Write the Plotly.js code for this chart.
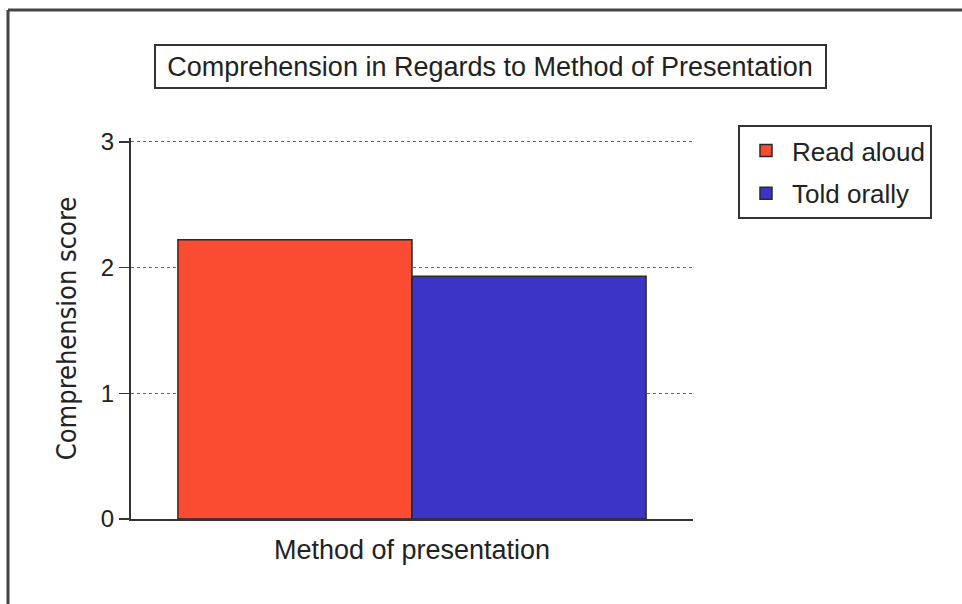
<!DOCTYPE html>
<html>
<head>
<meta charset="utf-8">
<script src="https://cdn.plot.ly/plotly-3.0.1.min.js"></script>
<style>html,body{margin:0;padding:0;background:#fff;} #chart{width:962px;height:604px;}</style>
</head>
<body>
<div id="chart"></div>
<script>
var category = ['Method of presentation'];
var seriesNames = ['Read aloud', 'Told orally'];
var readAloud = [2.22];
var toldOrally = [1.93];
var yTicks = [0, 1, 2, 3];

var F = 'Liberation Sans, Arial, sans-serif';
var traces = [
  {type: 'bar', name: seriesNames[0], x: category, y: readAloud, legendgroup: 'g1',
   marker: {color: '#fb4b30', line: {color: '#2a2a2a', width: 1.5}}},
  {type: 'bar', name: seriesNames[1], x: category, y: toldOrally, legendgroup: 'g2',
   marker: {color: '#3b34c6', line: {color: '#2a2a2a', width: 1.5}}}
];

var B = 519, H = 381;           // plot bottom (px) and plot height (px)
function py(p) { return (B - p) / H; }
function px(p) { return (p - 131) / 562; }

var layout = {
  width: 962, height: 604,
  margin: {l: 131, r: 269, t: 604 - 85 - H, b: 85},
  paper_bgcolor: '#fff', plot_bgcolor: '#fff',
  barmode: 'group', bargap: 0.167, bargroupgap: 0,
  font: {family: F, color: '#222', size: 24},
  title: {text: 'Comprehension in Regards to Method of Presentation',
          x: 490/962, xref: 'container', xanchor: 'center',
          y: 1 - 67/604, yref: 'container', yanchor: 'middle',
          font: {family: F, size: 27, color: '#222'}},
  xaxis: {showticklabels: false, ticks: '', showgrid: false, zeroline: false,
          showline: true, linecolor: '#333', linewidth: 2,
          title: {text: 'Method of presentation', standoff: 20, font: {family: F, size: 27, color: '#222'}}},
  yaxis: {range: [0, 3.03], tickvals: yTicks, ticktext: yTicks.map(String),
          ticks: 'outside', ticklen: 10, tickwidth: 1.5, tickcolor: '#333',
          showline: true, linecolor: '#333', linewidth: 2, zeroline: false,
          showgrid: true, gridcolor: '#666', griddash: 'dot', gridwidth: 1,
          tickfont: {family: F, size: 24, color: '#222'},
          title: {text: 'Comprehension score', standoff: 16, font: {family: 'DejaVu Sans Condensed, Liberation Sans Narrow, sans-serif', size: 27, color: '#222'}}},
  showlegend: true,
  legend: {x: px(738), xanchor: 'left', y: py(125), yanchor: 'top',
           bordercolor: '#333', borderwidth: 2, bgcolor: '#fff', traceorder: 'grouped',
           font: {family: F, size: 26, color: '#222'}, tracegroupgap: 6, itemwidth: 42},
  shapes: [
    {type: 'rect', xref: 'paper', yref: 'paper',
     x0: px(155), x1: px(826), y0: py(88), y1: py(45),
     line: {color: '#333', width: 2}, fillcolor: 'rgba(0,0,0,0)'},
    {type: 'line', xref: 'paper', yref: 'paper',
     x0: px(8), x1: px(964), y0: py(10), y1: py(10),
     line: {color: '#444', width: 3}},
    {type: 'line', xref: 'paper', yref: 'paper',
     x0: px(8), x1: px(8), y0: py(10), y1: py(606),
     line: {color: '#444', width: 3}}
  ]
};

Plotly.newPlot('chart', traces, layout, {displayModeBar: false, staticPlot: true});
</script>
</body>
</html>
